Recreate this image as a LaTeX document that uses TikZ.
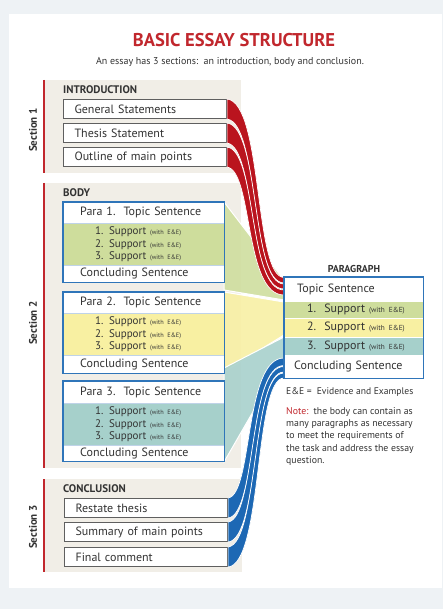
\documentclass[tikz,border=0pt]{standalone}
\usepackage{fontspec}
\setmainfont{PT Sans}
\usetikzlibrary{calc}
\definecolor{outerbg}{HTML}{EEF2F5}
\definecolor{beige}{HTML}{F1EEE7}
\definecolor{titlered}{HTML}{C1272D}
\definecolor{ribred}{HTML}{BA141E}
\definecolor{ribblue}{HTML}{1D68B4}
\definecolor{boxblue}{HTML}{2F75B9}
\definecolor{sepblue}{HTML}{BFD3E8}
\definecolor{grn}{HTML}{CEDD9C}
\definecolor{ylw}{HTML}{F8F0A2}
\definecolor{tea}{HTML}{A6D0CB}
\definecolor{txt}{HTML}{333333}
\definecolor{boxgray}{HTML}{5F5F5F}
\newcommand{\supp}[1]{#1. Support {\fontsize{6.3}{7}\selectfont (with E\&E)}}
\newcommand{\psupp}[1]{\hspace*{23pt}#1.\ \ Support {\fontsize{7.3}{8}\selectfont (with E\&E)}}
\tikzset{
  every node/.style={text=txt},
  ibox/.style={draw=boxgray, line width=1.1pt, fill=white, anchor=north west,
    minimum width=163pt, minimum height=19pt, inner xsep=11pt, inner ysep=0pt,
    text width=141pt, align=left, font=\fontsize{12}{14}\selectfont},
  prow/.style={anchor=north west, minimum width=161pt, inner xsep=17pt, inner ysep=0pt,
    text width=127pt, align=left, font=\fontsize{12}{14}\selectfont, fill=white},
  psup/.style={anchor=north west, minimum width=161pt, minimum height=42pt, inner xsep=32pt,
    inner ysep=0pt, text width=97pt, align=left, font=\fontsize{11}{12.5}\selectfont},
  qrow/.style={anchor=north west, minimum width=139pt, inner ysep=0pt, inner xsep=0pt,
    text width=139pt, align=left, font=\fontsize{12}{14}\selectfont, fill=white},
  seclabel/.style={rotate=90, font=\fontsize{11}{13}\selectfont\bfseries},
  head/.style={anchor=west, font=\fontsize{11}{13}\selectfont\bfseries, inner sep=0pt},
  fan/.style={draw=white, line width=1pt, fill opacity=0.88},
  redrib/.style={fill=ribred, draw=white, line width=0.7pt},
  bluerib/.style={fill=ribblue, draw=white, line width=0.7pt},
  border/.style={draw=boxblue, line width=1.5pt},
}
\begin{document}
\begin{tikzpicture}[x=1pt,y=-1pt]
\useasboundingbox (0,0) rectangle (443,609);
\fill[outerbg] (0,0) rectangle (443,609);
\fill[white] (9,14) rectangle (442,588);

% title
\node[font=\fontsize{18.5}{20}\selectfont\bfseries, text=titlered] (title) at (234,40) {BASIC ESSAY STRUCTURE};
\node[font=\fontsize{10}{12}\selectfont] (sub) at (230,62) {An essay has 3 sections:\ \ an introduction, body and conclusion.};

% section backgrounds
\fill[beige] (45,80) rectangle (241,173);
\fill[beige] (45,183) rectangle (241,468);
\fill[beige] (45,479) rectangle (242,572);
\draw[titlered, line width=1.3pt] (44,80) -- (44,173);
\draw[titlered, line width=1.3pt] (44,183) -- (44,468);
\draw[titlered, line width=1.3pt] (44,479) -- (44,572);
\node[seclabel] (s1) at (33,130) {Section 1};
\node[seclabel] (s2) at (33,323) {Section 2};
\node[seclabel] (s3) at (33,527) {Section 3};

% fans
\coordinate (g1) at (224,202); \coordinate (g2) at (284,280); \coordinate (g3) at (284,300); \coordinate (g4) at (224,290);
\coordinate (y1) at (224,292); \coordinate (y2) at (284,302); \coordinate (y3) at (284,335); \coordinate (y4) at (224,372);
\coordinate (t1) at (224,368); \coordinate (t2) at (284,337); \coordinate (t3) at (284,358); \coordinate (t4) at (224,462);
\fill[fan, fill=grn] (g1) -- (g2) -- (g3) -- (g4) -- cycle;
\fill[fan, fill=ylw] (y1) -- (y2) -- (y3) -- (y4) -- cycle;
\fill[fan, fill=tea] (t1) -- (t2) -- (t3) -- (t4) -- cycle;

% headings
\node[head] (intro) at (63,90) {INTRODUCTION};
\node[head] (body) at (63,193) {BODY};
\node[head] (concl) at (63,489) {CONCLUSION};

% introduction boxes
\node[ibox] (gs) at (63,99) {General Statements};
\node[ibox] (ts) at (63,123) {Thesis Statement};
\node[ibox] (om) at (63,147) {Outline of main points};

% conclusion boxes
\node[ibox] (rt) at (64,498) {Restate thesis};
\node[ibox] (sm) at (64,522) {Summary of main points};
\node[ibox] (fc) at (64,547) {Final comment};

% paragraph (right)
\node[font=\fontsize{10}{12}\selectfont\bfseries] (phead) at (354,269) {PARAGRAPH};
\node[qrow, minimum height=24pt] (qt) at (284,277) {\hspace*{13pt}Topic Sentence};
\node[qrow, minimum height=17pt, fill=grn] (q1) at (284,301) {\psupp{1}};
\node[qrow, minimum height=19pt, fill=ylw] (q2) at (284,318) {\psupp{2}};
\node[qrow, minimum height=18pt, fill=tea] (q3) at (284,337) {\psupp{3}};
\node[qrow, minimum height=23pt] (qc) at (284,355) {\hspace*{10pt}Concluding Sentence};
\draw[white, line width=0.8pt] (qt.south west) -- (qt.south east) (q1.south west) -- (q1.south east)
  (q2.south west) -- (q2.south east) (q3.south west) -- (q3.south east);

% red ribbons: intro -> topic sentence
\coordinate (ra0) at (284,277.5); \coordinate (rb0) at (284,283);
\coordinate (ra1) at (284,284); \coordinate (rb1) at (284,289);
\coordinate (ra2) at (284,290); \coordinate (rb2) at (284,295);
\filldraw[redrib] (gs.north east) .. controls +(36,4) and +(-30,0) .. (ra0) -- (rb0)
   .. controls +(-34,0) and +(32,4) .. (gs.south east) -- cycle;
\filldraw[redrib] (ts.north east) .. controls +(33,4) and +(-33,0) .. (ra1) -- (rb1)
   .. controls +(-37,0) and +(29,4) .. (ts.south east) -- cycle;
\filldraw[redrib] (om.north east) .. controls +(30,4) and +(-36,0) .. (ra2) -- (rb2)
   .. controls +(-40,0) and +(26,4) .. (om.south east) -- cycle;

% blue ribbons: conclusion -> concluding sentence
\coordinate (ba0) at (284,373); \coordinate (bb0) at (284,378);
\coordinate (ba1) at (284,366.5); \coordinate (bb1) at (284,372);
\coordinate (ba2) at (284,358); \coordinate (bb2) at (284,365.5);
\filldraw[bluerib] (fc.south east) .. controls +(35,-4) and +(-30,0) .. (bb0) -- (ba0)
   .. controls +(-34,0) and +(31,-4) .. (fc.north east) -- cycle;
\filldraw[bluerib] (sm.south east) .. controls +(32,-4) and +(-33,0) .. (bb1) -- (ba1)
   .. controls +(-37,0) and +(28,-4) .. (sm.north east) -- cycle;
\filldraw[bluerib] (rt.south east) .. controls +(29,-4) and +(-36,0) .. (bb2) -- (ba2)
   .. controls +(-40,0) and +(25,-4) .. (rt.north east) -- cycle;
\draw[border] (qt.north west) rectangle (qc.south east);

% body paragraphs
\node[prow, minimum height=21pt] (p1t) at (63,202) {Para 1.\ \ Topic Sentence};
\node[psup, fill=grn] (p1s) at (63,223) {\supp{1}\\\supp{2}\\\supp{3}};
\node[prow, minimum height=17pt] (p1c) at (63,265) {Concluding Sentence};
\draw[sepblue, line width=0.8pt] (p1t.south west) -- (p1t.south east) (p1s.south west) -- (p1s.south east);
\draw[border] (p1t.north west) rectangle (p1c.south east);

\node[prow, minimum height=21pt] (p2t) at (63,292) {Para 2.\ \ Topic Sentence};
\node[psup, fill=ylw] (p2s) at (63,313) {\supp{1}\\\supp{2}\\\supp{3}};
\node[prow, minimum height=18pt] (p2c) at (63,355) {Concluding Sentence};
\draw[sepblue, line width=0.8pt] (p2t.south west) -- (p2t.south east) (p2s.south west) -- (p2s.south east);
\draw[border] (p2t.north west) rectangle (p2c.south east);

\node[prow, minimum height=22pt] (p3t) at (63,381) {Para 3.\ \ Topic Sentence};
\node[psup, fill=tea] (p3s) at (63,403) {\supp{1}\\\supp{2}\\\supp{3}};
\node[prow, minimum height=16pt] (p3c) at (63,445) {Concluding Sentence};
\draw[sepblue, line width=0.8pt] (p3t.south west) -- (p3t.south east) (p3s.south west) -- (p3s.south east);
\draw[border] (p3t.north west) rectangle (p3c.south east);

% notes
\node[anchor=north west, inner sep=0pt, font=\fontsize{9.6}{12}\selectfont] (ee) at (286,387) {E\&E =\ \ Evidence and Examples};
\node[anchor=north west, inner sep=0pt, font=\fontsize{9.8}{12.3}\selectfont, align=left] (note) at (286,407)
 {{\color{titlered}Note:}\ \ the body can contain as\\many paragraphs as necessary\\to meet the requirements of\\the task and address the essay\\question.};
\end{tikzpicture}
\end{document}
